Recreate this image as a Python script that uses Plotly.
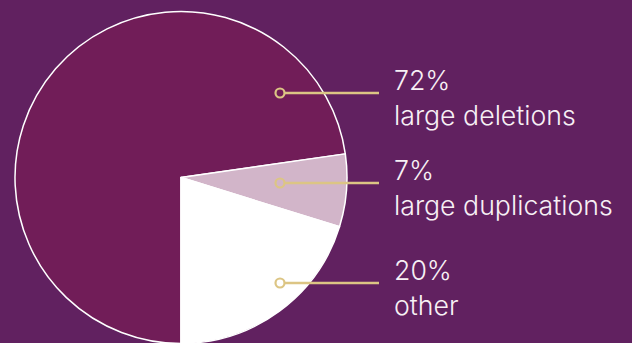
import plotly.graph_objects as go

# ---- data ----
labels = ["large deletions", "large duplications", "other"]
values = [72, 7, 20]
pct_text = ["72%", "7%", "20%"]

# ---- style / layout constants ----
W, H = 632, 345
bg = "#612160"
slice_colors = ["#711d58", "#d2b5c9", "#ffffff"]
gold = "#dcc584"
text_color = "#f7f0f5"
font_family = "Inter, Roboto, sans-serif"

# leader anchors (pixel layout positions) in order of labels
leader_y = [93, 183, 283]
leader_x0, leader_x1 = 280, 379
text_x = 392

fig = go.Figure()

fig.add_trace(go.Pie(
    labels=labels,
    values=values,
    sort=False,
    direction="clockwise",
    rotation=180,
    marker=dict(colors=slice_colors, line=dict(color="#ffffff", width=1.5)),
    textinfo="none",
    hoverinfo="skip",
    showlegend=False,
    domain=dict(x=[15 / W, 347 / W], y=[1.5 / H, 333.5 / H]),
))

shapes = []
r = 4.5
for i, lab in enumerate(labels):
    y = leader_y[i]
    shapes.append(dict(type="line", xref="x", yref="y", layer="above",
                       x0=leader_x0 + r, x1=leader_x1, y0=y, y1=y,
                       line=dict(color=gold, width=2.5)))
    shapes.append(dict(type="circle", xref="x", yref="y", layer="above",
                       x0=leader_x0 - r, x1=leader_x0 + r, y0=y - r, y1=y + r,
                       line=dict(color=gold, width=2.2)))
    fig.add_annotation(
        x=text_x, y=y + 4, xref="x", yref="y",
        text=f"{pct_text[i]}<br>{lab}", showarrow=False,
        xanchor="left", yanchor="middle", align="left",
        font=dict(family=font_family, size=26.7, color=text_color, weight=300),
    )

fig.update_layout(
    width=W, height=H,
    margin=dict(l=0, r=0, t=0, b=0),
    paper_bgcolor=bg, plot_bgcolor="rgba(0,0,0,0)",
    xaxis=dict(range=[0, W], visible=False, fixedrange=True),
    yaxis=dict(range=[H, 0], visible=False, fixedrange=True),
    shapes=shapes,
)

fig.write_html(
    "out.html",
    config={"displayModeBar": False},
    post_script="document.body.style.margin='0';document.body.style.overflow='hidden';document.documentElement.style.overflow='hidden';",
)
